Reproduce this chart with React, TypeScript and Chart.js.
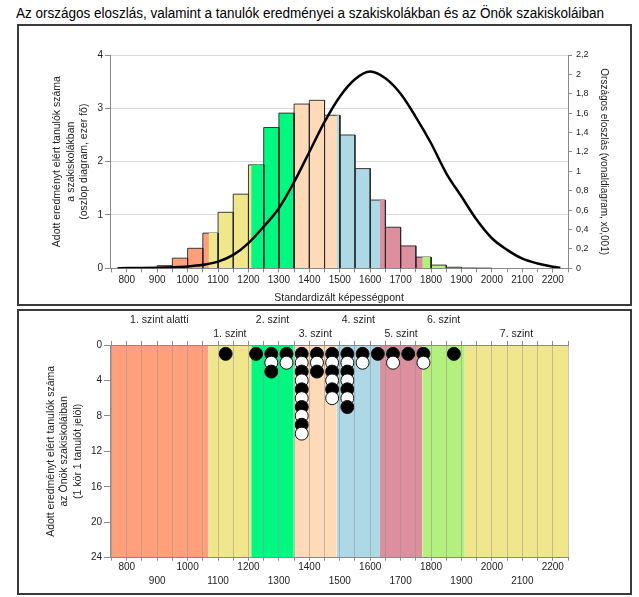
import React, { useEffect, useRef } from 'react';
import { Chart, registerables } from 'chart.js';
Chart.register(...registerables);

// ---------- data ----------
const titleText = 'Az országos eloszlás, valamint a tanulók eredményei a szakiskolákban és az Önök szakiskoláiban';

// histogram (thousand students in vocational schools), bins of 50 points
const binStarts = [800, 850, 900, 950, 1000, 1050, 1100, 1150, 1200, 1250, 1300, 1350, 1400, 1450, 1500, 1550, 1600, 1650, 1700, 1750, 1800, 1850, 1900, 1950];
const binHeights = [0.01, 0.01, 0.05, 0.19, 0.375, 0.66, 1.05, 1.39, 1.94, 2.64, 2.91, 3.08, 3.15, 2.87, 2.5, 1.87, 1.28, 0.77, 0.42, 0.21, 0.06, 0.02, 0.005, 0.003];
const binWidth = 50;

// national distribution curve (x0,001)
const curveX = [770, 800, 850, 900, 950, 1000, 1050, 1100, 1150, 1200, 1250, 1300, 1350, 1400, 1450, 1500, 1550, 1600, 1650, 1700, 1750, 1800, 1850, 1900, 1950, 2000, 2050, 2100, 2150, 2200, 2225];
const curveY = [0.001, 0.002, 0.003, 0.006, 0.011, 0.019, 0.036, 0.069, 0.138, 0.26, 0.43, 0.62, 0.89, 1.2, 1.51, 1.77, 1.95, 2.03, 1.96, 1.8, 1.56, 1.29, 0.98, 0.74, 0.5, 0.31, 0.19, 0.1, 0.05, 0.017, 0.006];

// proficiency levels
const levelBounds = [1069, 1209, 1349, 1490, 1632, 1771, 1911];
const levelColors = ['#FFA07A', '#F0E68C', '#00F880', '#FFDAB9', '#ADD8E6', '#DB8F9F', '#B3F07D', '#F0E68C'];
const levelNames = ['1. szint alatti', '1. szint', '2. szint', '3. szint', '4. szint', '5. szint', '6. szint', '7. szint'];

// own schools: one circle per student
const dotColumns = [1125, 1225, 1275, 1325, 1375, 1425, 1475, 1525, 1575, 1625, 1675, 1725, 1775, 1875];
const dotCounts = [1, 1, 3, 2, 10, 3, 6, 7, 2, 1, 2, 1, 2, 1];

const topYTitle = ['Adott eredményt elért tanulók száma', 'a szakiskolákban', '(oszlop diagram, ezer fő)'];
const rightYTitle = 'Országos eloszlás (vonaldiagram, x0,001)';
const topXTitle = 'Standardizált képességpont';
const bottomYTitle = ['Adott eredményt elért tanulók száma', 'az Önök szakiskoláiban', '(1 kör 1 tanulót jelöl)'];

// ---------- config ----------
const X_MIN = 745;
const X_MAX = 2250;
const X_TICK_STEP = 50;
const DOT_MAX = 24;
const FONT = "'Liberation Sans', Arial, sans-serif";
const DARK = 'rgba(40,40,40,0.9)';
const AXIS = '#8a8a8a';
const TXT = '#222';

Chart.defaults.font.family = FONT;
Chart.defaults.color = TXT;

function levelIndexAt(x: number) {
  let i = 0;
  while (i < levelBounds.length && x >= levelBounds[i]) i++;
  return i;
}
function rect(a: number, b: number, h: number) {
  return [{ x: a, y: 0 }, { x: a, y: h }, { x: b, y: h }, { x: b, y: 0 }];
}
function stepTicks() {
  const v: number[] = [];
  for (let t = Math.ceil(X_MIN / X_TICK_STEP) * X_TICK_STEP; t <= X_MAX; t += X_TICK_STEP) v.push(t);
  return v;
}
const bandLo = (i: number) => (i === 0 ? X_MIN : levelBounds[i - 1]);
const bandHi = (i: number) => (i === levelBounds.length ? X_MAX : levelBounds[i]);
const levelCenters = levelColors.map((_, i) => (bandLo(i) + bandHi(i)) / 2);

function topDatasets() {
  const ds: any[] = [];
  binStarts.forEach((a, i) => {
    const b = a + binWidth;
    const h = binHeights[i];
    ds.push({
      data: rect(a, b, h), backgroundColor: levelColors[levelIndexAt(a)], borderColor: DARK, borderWidth: 1,
      fill: 'origin', pointRadius: 0, tension: 0, order: 3, xAxisID: 'x', yAxisID: 'y',
    });
    levelBounds.filter((s) => s > a && s < b).forEach((s) => {
      ds.push({
        data: rect(s, b, h), backgroundColor: levelColors[levelIndexAt(s)], borderColor: DARK, borderWidth: 1,
        segment: { borderColor: (c: any) => (c.p0DataIndex === 2 ? DARK : 'rgba(0,0,0,0)') },
        fill: 'origin', pointRadius: 0, tension: 0, order: 2, xAxisID: 'x', yAxisID: 'y',
      });
    });
  });
  ds.push({
    data: curveX.map((x, i) => ({ x, y: curveY[i] })), borderColor: '#000', borderWidth: 2.5,
    tension: 0.4, cubicInterpolationMode: 'monotone', pointRadius: 0, fill: false, order: 0,
    xAxisID: 'x', yAxisID: 'y2',
  });
  return ds;
}

function bottomDatasets() {
  const ds: any[] = levelColors.map((c, i) => ({
    data: [{ x: bandLo(i), y: DOT_MAX }, { x: bandHi(i), y: DOT_MAX }], backgroundColor: c,
    borderWidth: 0, borderColor: 'rgba(0,0,0,0)', fill: 'origin', pointRadius: 0, order: 5,
    xAxisID: 'x', yAxisID: 'y',
  }));
  const pts: any[] = [];
  const fills: string[] = [];
  dotColumns.forEach((x, i) => {
    for (let k = 1; k <= dotCounts[i]; k++) {
      pts.push({ x, y: k });
      fills.push(k % 2 === 1 ? '#000' : '#fff');
    }
  });
  ds.push({
    data: pts, showLine: false, pointRadius: 6.5, pointBackgroundColor: fills, pointBorderColor: '#111',
    pointBorderWidth: 1, order: 1, xAxisID: 'x', yAxisID: 'y',
  });
  return ds;
}

export default function App() {
  const topRef = useRef<HTMLCanvasElement>(null);
  const botRef = useRef<HTMLCanvasElement>(null);

  useEffect(() => {
    const top = new Chart(topRef.current!, {
      type: 'line',
      data: { datasets: topDatasets() },
      options: {
        animation: false, responsive: false, devicePixelRatio: 1,
        layout: { padding: { left: 51, right: 29, top: 33, bottom: 3.4 } },
        plugins: { legend: { display: false }, tooltip: { enabled: false } },
        scales: {
          x: {
            type: 'linear', position: 'bottom', min: X_MIN, max: X_MAX,
            afterBuildTicks: (s: any) => { s.ticks = stepTicks().map((value) => ({ value })); },
            afterFit: (s: any) => { s.height = 36.3; },
            ticks: {
              autoSkip: false, maxRotation: 0, minRotation: 0, padding: 2, font: { size: 10 },
              callback: (v: any) => (Number(v) % 100 === 0 ? String(v) : ''),
            },
            grid: { drawOnChartArea: false, drawTicks: true, tickLength: 4, tickColor: AXIS },
            border: { display: true, color: AXIS },
            title: { display: true, text: topXTitle, font: { size: 10.5 }, padding: 0 },
          },
          y: {
            type: 'linear', position: 'left', min: 0, max: 4,
            afterFit: (s: any) => { s.width = 59; },
            ticks: { stepSize: 1, padding: 2, font: { size: 10 } },
            grid: { color: '#d9d9d9', drawTicks: true, tickLength: 5, tickColor: AXIS },
            border: { display: true, color: AXIS },
            title: { display: true, text: topYTitle, font: { size: 10.5, lineHeight: 1.25 }, padding: 0 },
          },
          y2: {
            type: 'linear', position: 'right', min: 0, max: 2.2,
            afterBuildTicks: (s: any) => {
              const v: number[] = [];
              for (let k = 0; k <= 11; k++) v.push(Math.round(k * 2) / 10);
              s.ticks = v.map((value) => ({ value }));
            },
            afterFit: (s: any) => { s.width = 42; },
            ticks: {
              padding: 4, font: { size: 9 },
              callback: (v: any) => {
                const r = Math.round(Number(v) * 10) / 10;
                return Number.isInteger(r) ? String(r) : r.toFixed(1).replace('.', ',');
              },
            },
            grid: { drawOnChartArea: false, drawTicks: true, tickLength: 4, tickColor: AXIS },
            border: { display: true, color: AXIS },
            title: { display: true, text: rightYTitle, font: { size: 10 }, padding: 0 },
          },
        },
      } as any,
    });

    const bot = new Chart(botRef.current!, {
      type: 'line',
      data: { datasets: bottomDatasets() },
      options: {
        animation: false, responsive: false, devicePixelRatio: 1,
        layout: { padding: { left: 44, right: 71, top: 0, bottom: 0 } },
        plugins: { legend: { display: false }, tooltip: { enabled: false } },
        scales: {
          x: {
            type: 'linear', position: 'bottom', min: X_MIN, max: X_MAX,
            afterBuildTicks: (s: any) => { s.ticks = stepTicks().map((value) => ({ value })); },
            afterFit: (s: any) => { s.height = 39.3; },
            ticks: {
              autoSkip: false, maxRotation: 0, minRotation: 0, padding: 0, font: { size: 10, lineHeight: 1.4 },
              callback: (v: any) => {
                const n = Number(v);
                if (n % 200 === 0) return [String(n), ''];
                if (n % 100 === 0) return ['', String(n)];
                return '';
              },
            },
            grid: { z: 1, color: 'rgba(150,150,150,0.55)', drawTicks: true, tickLength: 3, tickColor: AXIS },
            border: { display: true, color: AXIS, z: 1 },
          },
          xt: {
            type: 'linear', axis: 'x', position: 'top', min: X_MIN, max: X_MAX,
            afterBuildTicks: (s: any) => {
              const v = stepTicks().concat(levelCenters).sort((a, b) => a - b);
              s.ticks = v.map((value) => ({ value }));
            },
            afterFit: (s: any) => { s.height = 36; },
            ticks: {
              autoSkip: false, maxRotation: 0, minRotation: 0, padding: 0, font: { size: 10.5, lineHeight: 1.35 },
              callback: (v: any) => {
                const i = levelCenters.findIndex((c) => Math.abs(c - Number(v)) < 1e-6);
                if (i < 0) return '';
                return i % 2 === 0 ? [levelNames[i], ''] : ['', levelNames[i]];
              },
            },
            grid: {
              drawOnChartArea: false, drawTicks: true, tickLength: 4,
              tickColor: (c: any) => (c.tick && Number(c.tick.value) % X_TICK_STEP === 0 ? AXIS : 'rgba(0,0,0,0)'),
            },
            border: { display: true, color: AXIS, z: 1 },
          },
          y: {
            type: 'linear', position: 'left', min: 0, max: DOT_MAX, reverse: true,
            afterFit: (s: any) => { s.width = 66; },
            ticks: { stepSize: 4, padding: 2, font: { size: 10 } },
            grid: { drawOnChartArea: false, drawTicks: true, tickLength: 6, tickColor: AXIS },
            border: { display: true, color: AXIS, z: 1 },
            title: { display: true, text: bottomYTitle, font: { size: 10.5, lineHeight: 1.3 }, padding: 0 },
          },
        },
      } as any,
    });

    return () => { top.destroy(); bot.destroy(); };
  }, []);

  return (
    <div style={{ position: 'absolute', left: 0, top: 0, width: 639, height: 597, background: '#fff', overflow: 'hidden' }}>
      <svg width={639} height={24} style={{ position: 'absolute', left: 0, top: 0 }}>
        <text x={16} y={18} fontFamily={FONT} fontSize={14} fill="#000" textLength={588} lengthAdjust="spacingAndGlyphs">
          {titleText}
        </text>
      </svg>
      <canvas ref={topRef} width={639} height={286} style={{ position: 'absolute', left: 0, top: 22 }} />
      <canvas ref={botRef} width={639} height={288} style={{ position: 'absolute', left: 0, top: 309 }} />
      <div style={{ position: 'absolute', left: 17, top: 24, width: 611, height: 278, border: '2px solid #3a3a3a', pointerEvents: 'none' }} />
      <div style={{ position: 'absolute', left: 17, top: 309, width: 611, height: 282, border: '2px solid #3a3a3a', pointerEvents: 'none' }} />
    </div>
  );
}
